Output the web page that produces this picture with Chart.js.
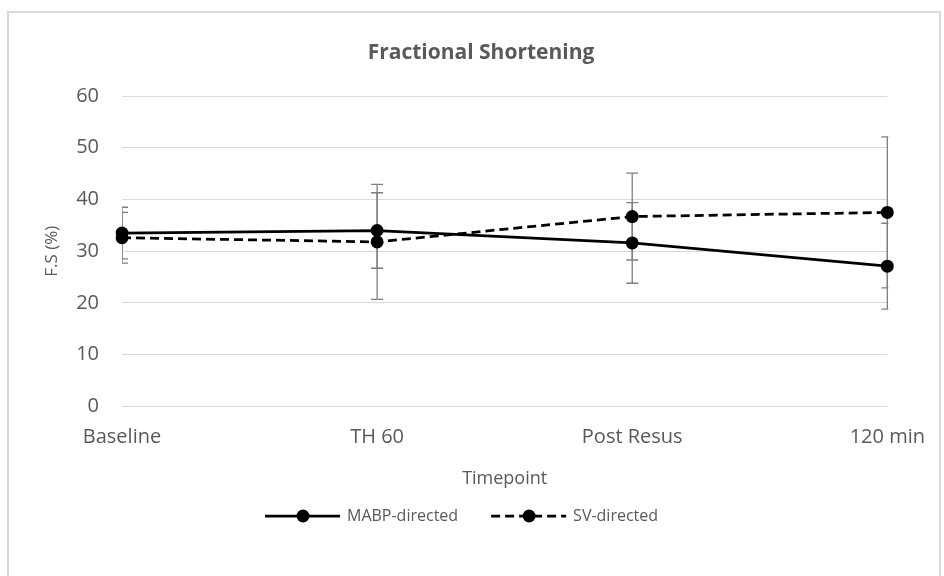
<!DOCTYPE html>
<html>
<head>
<meta charset="utf-8">
<title>Fractional Shortening</title>
<script src="https://cdn.jsdelivr.net/npm/chart.js@4.4.1/dist/chart.umd.min.js"></script>
<style>
  html, body { margin: 0; padding: 0; background: #fff; }
  #wrap { width: 944px; height: 576px; }
</style>
</head>
<body>
<div id="wrap"><canvas id="fsChart" width="944" height="576"></canvas></div>
<script>
// timepoints and group means / error (±) for fractional shortening
const timepoints = ['Baseline', 'TH 60', 'Post Resus', '120 min'];
const mabpDirected = [33.5, 34.0, 31.6, 27.1];
const mabpError = [5.0, 7.3, 7.8, 8.3];
const svDirected = [32.6, 31.8, 36.7, 37.5];
const svError = [4.9, 11.1, 8.4, 14.6];
const yTicks = [0, 10, 20, 30, 40, 50, 60];

const FONT = '"Open Sans", sans-serif';
const GREY_TEXT = '#595959';
const CHART_TITLE = 'Fractional Shortening';

// white background, light frame and the chart title
const frame = {
  id: 'frame',
  beforeDraw(chart) {
    const ctx = chart.ctx;
    ctx.save();
    ctx.fillStyle = '#fff';
    ctx.fillRect(0, 0, chart.width, chart.height);
    ctx.strokeStyle = '#d9d9d9';
    ctx.lineWidth = 2;
    ctx.strokeRect(8, 12, 932, 600);
    ctx.fillStyle = GREY_TEXT;
    ctx.font = 'bold 21px ' + FONT;
    ctx.textAlign = 'center';
    ctx.textBaseline = 'middle';
    ctx.fillText(CHART_TITLE, 481, 53);
    ctx.restore();
  }
};

// vertical error bars with caps, clipped to the plot area
const errorBars = {
  id: 'errorBars',
  beforeDatasetsDraw(chart) {
    const { ctx, chartArea, scales: { x, y } } = chart;
    ctx.save();
    ctx.beginPath();
    ctx.rect(chartArea.left, chartArea.top - 2, chartArea.width + 1, chartArea.height + 4);
    ctx.clip();
    ctx.strokeStyle = '#7f7f7f';
    ctx.lineWidth = 1.3;
    chart.data.datasets.forEach(ds => {
      ds.data.forEach((v, i) => {
        const px = x.getPixelForValue(i);
        const top = y.getPixelForValue(v + ds.errors[i]);
        const bot = y.getPixelForValue(v - ds.errors[i]);
        ctx.beginPath();
        ctx.moveTo(px, top); ctx.lineTo(px, bot);
        ctx.moveTo(px - 6, top); ctx.lineTo(px + 6, top);
        ctx.moveTo(px - 6, bot); ctx.lineTo(px + 6, bot);
        ctx.stroke();
      });
    });
    ctx.restore();
  }
};

// legend drawn as line + marker samples, like the series themselves
const lineLegend = {
  id: 'lineLegend',
  afterDraw(chart) {
    const ctx = chart.ctx;
    const yMid = 516;
    let xPos = 265;
    ctx.save();
    ctx.font = '16px ' + FONT;
    ctx.textBaseline = 'middle';
    chart.data.datasets.forEach(ds => {
      ctx.strokeStyle = '#000';
      ctx.lineWidth = ds.borderWidth;
      ctx.setLineDash(ds.borderDash || []);
      ctx.beginPath();
      ctx.moveTo(xPos, yMid);
      ctx.lineTo(xPos + 75, yMid);
      ctx.stroke();
      ctx.setLineDash([]);
      ctx.fillStyle = '#000';
      ctx.beginPath();
      ctx.arc(xPos + 38, yMid, ds.pointRadius, 0, Math.PI * 2);
      ctx.fill();
      ctx.fillStyle = GREY_TEXT;
      ctx.fillText(ds.label, xPos + 82, yMid);
      xPos += 82 + ctx.measureText(ds.label).width + 33;
    });
    ctx.restore();
  }
};

new Chart(document.getElementById('fsChart'), {
  type: 'line',
  data: {
    labels: timepoints,
    datasets: [
      {
        label: 'MABP-directed',
        data: mabpDirected,
        errors: mabpError,
        borderColor: '#000',
        backgroundColor: '#000',
        borderWidth: 2.75,
        pointRadius: 6.5,
        pointBackgroundColor: '#000',
        pointBorderWidth: 0,
        tension: 0
      },
      {
        label: 'SV-directed',
        data: svDirected,
        errors: svError,
        borderColor: '#000',
        backgroundColor: '#000',
        borderWidth: 2.75,
        borderDash: [9, 5],
        pointRadius: 6.5,
        pointBackgroundColor: '#000',
        pointBorderWidth: 0,
        tension: 0
      }
    ]
  },
  options: {
    responsive: false,
    animation: false,
    devicePixelRatio: 1,
    layout: { padding: { left: 0, right: 56, top: 96, bottom: 86 } },
    plugins: {
      legend: { display: false },
      tooltip: { enabled: false },
      title: { display: false }
    },
    scales: {
      x: {
        offset: false,
        grid: { display: false, drawTicks: false },
        border: { display: false },
        ticks: { color: GREY_TEXT, font: { family: FONT, size: 20 }, padding: 19, maxRotation: 0 },
        title: {
          display: true,
          text: 'Timepoint',
          color: GREY_TEXT,
          font: { family: FONT, size: 18 },
          padding: { top: 0, bottom: 0 }
        }
      },
      y: {
        min: 0,
        max: 60,
        afterBuildTicks(scale) { scale.ticks = yTicks.map(v => ({ value: v })); },
        afterFit(scale) { scale.width = 122; },
        grid: { color: '#d9d9d9', lineWidth: 1, drawTicks: false },
        border: { display: false },
        ticks: { color: GREY_TEXT, font: { family: FONT, size: 20 }, padding: 23 },
        title: {
          display: true,
          text: 'F.S (%)',
          color: GREY_TEXT,
          font: { family: FONT, size: 17 },
          padding: { top: 42, bottom: 0 }
        }
      }
    }
  },
  plugins: [frame, errorBars, lineLegend]
});
</script>
</body>
</html>
